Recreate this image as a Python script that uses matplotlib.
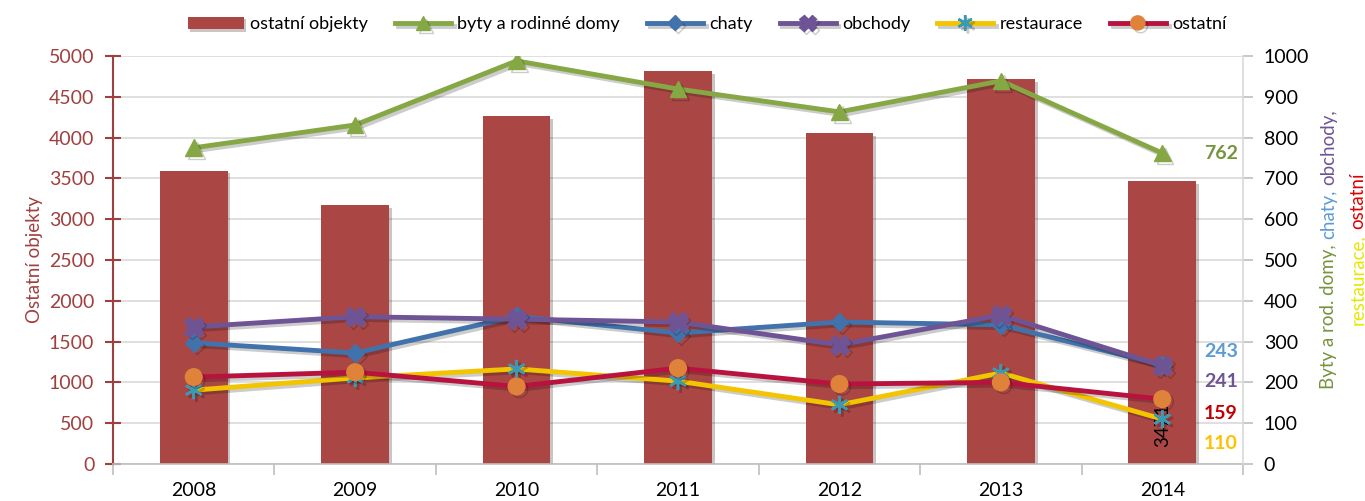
import matplotlib.pyplot as plt
import matplotlib.patheffects as pe
import numpy as np

plt.rcParams['font.family'] = ['Lato', 'DejaVu Sans']

years = ['2008', '2009', '2010', '2011', '2012', '2013', '2014']
ostatni_objekty = [3595, 3175, 4265, 4815, 4055, 4720, 3471]   # left axis (bars)
byty = [775, 831, 988, 919, 863, 939, 762]
chaty = [297, 272, 362, 321, 348, 341, 243]
obchody = [336, 361, 355, 348, 292, 365, 241]
restaurace = [181, 211, 233, 203, 145, 223, 110]
ostatni = [213, 225, 190, 235, 196, 200, 159]

dark_red = '#A0403E'
x = np.arange(len(years))

fig = plt.figure(figsize=(13.65, 5.01), dpi=100)
ax = fig.add_axes([0.0828, 0.0739, 0.8278, 0.8143])
ax2 = ax.twinx()

shadow = [pe.SimplePatchShadow(offset=(2, -2), alpha=0.25), pe.Normal()]
bars = ax.bar(x, ostatni_objekty, width=0.42, color='#AA4744', zorder=2,
              label='ostatní objekty')
for b in bars:
    b.set_path_effects(shadow)

ax.set_xlim(-0.5, len(years) - 0.5)
ax.set_ylim(0, 5000)
ax.set_yticks(np.arange(0, 5001, 500))
ax.grid(axis='y', color='#D9D9D9', linewidth=1.2, zorder=0)
ax.set_axisbelow(True)
ax.set_xticks(x)
ax.set_xticklabels(years, fontsize=14)
ax.set_xticks(np.arange(-0.5, len(years)), minor=True)
ax.tick_params(axis='x', which='major', length=0, pad=13)
ax.tick_params(axis='x', which='minor', length=8, color='#BFBFBF', width=1.2)
ax.tick_params(axis='y', colors=dark_red, direction='inout', length=11,
               width=1.5, labelsize=14, pad=8)
ax.set_ylabel('Ostatní objekty', color=dark_red, fontsize=13.5, labelpad=4)
ax.spines['left'].set_color(dark_red)
ax.spines['left'].set_linewidth(1.5)
ax.spines['bottom'].set_color('#BFBFBF')
ax.spines['bottom'].set_linewidth(1.2)
ax.spines['top'].set_visible(False)
ax.spines['right'].set_visible(False)

ax2.set_ylim(0, 1000)
ax2.set_yticks(np.arange(0, 1001, 100))
ax2.tick_params(axis='y', colors='#BFBFBF', labelcolor='black', length=7,
                width=1.2, labelsize=14, pad=8)
for s in ['top', 'left', 'bottom']:
    ax2.spines[s].set_visible(False)
ax2.spines['right'].set_color('#D9D9D9')
ax2.spines['right'].set_linewidth(1.2)

lshadow = [pe.SimpleLineShadow(offset=(2, -2), alpha=0.2), pe.Normal()]
series = [
    (byty, 'byty a rodinné domy', dict(color='#86A844', marker='^', ms=12,
                                          mfc='#86A844', mec='#86A844')),
    (chaty, 'chaty', dict(color='#4272AB', marker='D', ms=9,
                          mfc='#4272AB', mec='#4272AB')),
    (obchody, 'obchody', dict(color='#6F5495', marker='X', ms=14,
                              mfc='#6F5495', mec='#6F5495')),
    (restaurace, 'restaurace', dict(color='#F2C500', marker=(6, 2, 0), ms=13,
                                    mec='#3A9AB5', mew=1.8)),
    (ostatni, 'ostatní', dict(color='#B8133F', marker='o', ms=12,
                              mfc='#E0833A', mec='#E0833A')),
]
lines = []
for vals, name, kw in series:
    ln, = ax2.plot(x, vals, linewidth=3.5, label=name, path_effects=lshadow,
                   zorder=3, **kw)
    lines.append(ln)

# value labels for 2014
lab = [(byty, '762', '#77933C', 0), (chaty, '243', '#5B9BD5', 13),
       (obchody, '241', '#6F5495', -16), (ostatni, '159', '#C00000', -14),
       (restaurace, '110', '#FFC000', -24)]
for vals, txt, col, dy in lab:
    ax2.annotate(txt, xy=(x[-1], vals[-1]), xytext=(30, dy * 0.72),
                 textcoords='offset points', color=col, fontsize=14,
                 fontweight='bold', ha='left', va='center')
ax.annotate(str(ostatni_objekty[-1]), xy=(x[-1], 0), xytext=(0, 12),
            textcoords='offset points', rotation=90, ha='center',
            va='bottom', fontsize=13.5, color='black', zorder=5)

handles = [bars] + lines
fig.legend(handles, [h.get_label() for h in handles], loc='upper center',
           bbox_to_anchor=(0.518, 1.0), ncol=6, frameon=False, fontsize=13,
           handlelength=3.1, columnspacing=1.5, handletextpad=0.35,
           markerscale=0.85)

# multicoloured right axis label, two rotated lines built piece by piece
rows = [
    (0.9735, [('Byty a rod. domy,', '#77933C'), ('chaty,', '#5B9BD5'),
              ('obchody,', '#6F5495')]),
    (0.9945, [('restaurace,', '#E6E600'), ('ostatní', '#E00000')]),
]
fig.canvas.draw()
r = fig.canvas.get_renderer()
gap = 5
center_y = 501 - 249
for xf, parts in rows:
    texts = [fig.text(xf, 0, t, color=c, rotation=90, fontsize=13.5,
                      ha='center', va='bottom') for t, c in parts]
    heights = [t.get_window_extent(r).height for t in texts]
    total = sum(heights) + gap * (len(texts) - 1)
    y = center_y - total / 2
    for t, h in zip(texts, heights):
        t.set_y(y / 501)
        y += h + gap

fig.savefig('out.png', dpi=100)
